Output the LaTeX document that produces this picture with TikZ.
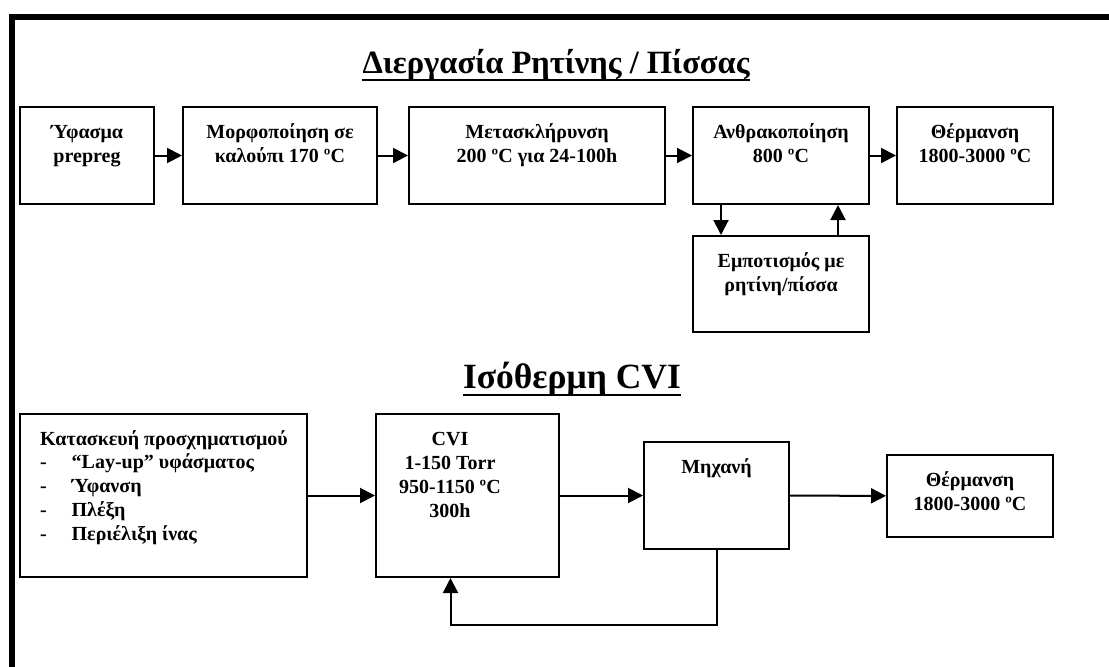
\documentclass[tikz,border=0pt]{standalone}
\usepackage{fontspec}
\setmainfont{Liberation Serif}
\usetikzlibrary{arrows.meta}

\begin{document}
\begin{tikzpicture}[x=1pt, y=-1pt,
  every node/.style={inner sep=0pt, font=\bfseries\fontsize{20}{24}\selectfont},
  box/.style={draw, line width=2pt},
  boxtext/.style={align=center, anchor=base},
  heading/.style={font=\bfseries\fontsize{#1}{36}\selectfont, anchor=base},
  arr/.style={line width=2pt, -{Triangle[length=15pt, width=15pt]}},
  uline/.style={line width=2.8pt}]
  \useasboundingbox (0,0) rectangle (1109,667);
  % Page frame (top and left edges only)
  \draw[line width=5.5pt] (12,667) -- (12,17) -- (1109,17);

  % Resin / pitch process
  \node[heading=32.5] (title1) at (556,73) {Διεργασία Ρητίνης / Πίσσας};
  \draw[uline] ([yshift=-7pt]title1.base west) -- ([yshift=-7pt]title1.base east);

  \foreach \name/\cx/\w in {fabric/87/134, mould/280/194, postcure/537/256, carb/781/176, heat/975/156}
    \node[box, minimum width=\w pt, minimum height=97pt] (\name) at (\cx,155.5) {};
  \node[box, minimum width=176pt, minimum height=96pt] (impreg) at (781,284) {};

  % texts sit on the baseline of their last line
  \node[boxtext] (fabric-t) at (87,162) {Ύφασμα\\prepreg};
  \node[boxtext] (mould-t) at (280,162) {Μορφοποίηση σε\\καλούπι 170 ºC};
  \node[boxtext] (postcure-t) at (537,162) {Μετασκλήρυνση\\200 ºC για 24-100h};
  \node[boxtext] (carb-t) at (781,162) {Ανθρακοποίηση\\800 ºC};
  \node[boxtext] (heat-t) at (975,162) {Θέρμανση\\1800-3000 ºC};
  \node[boxtext] (impreg-t) at (781,291) {Εμποτισμός με\\ρητίνη/πίσσα};

  \foreach \a/\b in {fabric/mould, mould/postcure, postcure/carb, carb/heat}
    \draw[arr] (\a) -- (\b);
  \draw[arr] ([xshift=-60pt]carb.south) -- ([xshift=-60pt]impreg.north);
  \draw[arr] ([xshift=57pt]impreg.north) -- ([xshift=57pt]carb.south);

  % Isothermal CVI
  \node[heading=35.5] (title2) at (572,388) {Ισόθερμη CVI};
  \draw[uline] ([yshift=-7pt]title2.base west) -- ([yshift=-7pt]title2.base east);

  \node[box, minimum width=287pt, minimum height=163pt] (preform) at (163.5,495.5) {};
  \node[box, minimum width=183pt, minimum height=163pt] (cvi) at (467.5,495.5) {};
  \node[box, minimum width=145pt, minimum height=107pt] (mach) at (716.5,495.5) {};
  \node[box, minimum width=166pt, minimum height=82pt] (heat2) at (970,496) {};

  \node[align=left, anchor=base west, font=\bfseries\fontsize{20}{23.7}\selectfont] (preform-t) at (40,540) {Κατασκευή προσχηματισμού\\
    \makebox[31.5pt][l]{-}“Lay-up” υφάσματος\\
    \makebox[31.5pt][l]{-}Ύφανση\\
    \makebox[31.5pt][l]{-}Πλέξη\\
    \makebox[31.5pt][l]{-}Περιέλιξη ίνας};
  \node[boxtext] (cvi-t) at (450,517) {CVI\\1-150 Torr\\950-1150 ºC\\300h};
  \node[boxtext] (mach-t) at (716.5,473) {Μηχανή};
  \node[boxtext] (heat2-t) at (970,510) {Θέρμανση\\1800-3000 ºC};

  \draw[arr] (preform) -- (cvi);
  \draw[arr] (cvi) -- (mach);
  \draw[arr] (mach) -- (heat2);
  \draw[arr] (mach.south) -- ++(0,75) -| ([xshift=-17pt]cvi.south);
\end{tikzpicture}
\end{document}
